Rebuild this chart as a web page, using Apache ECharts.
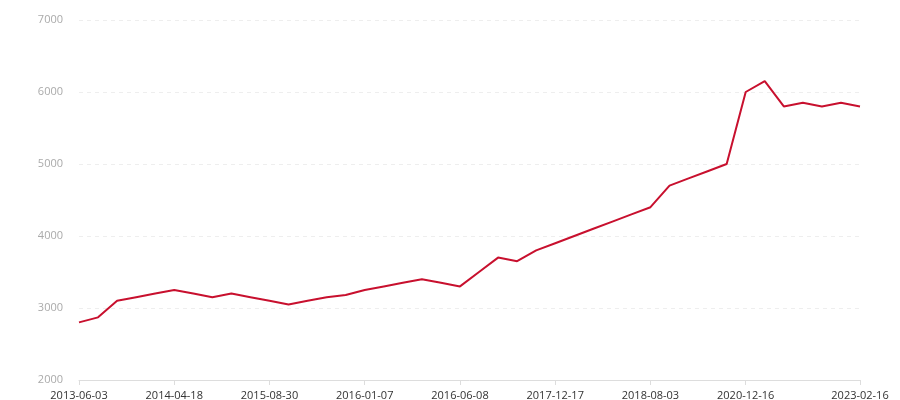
<!DOCTYPE html>
<html>
<head>
<meta charset="utf-8">
<script src="https://cdn.jsdelivr.net/npm/echarts@6/dist/echarts.min.js"></script>
<style>html,body{margin:0;padding:0;background:#fff}#c{width:900px;height:400px}</style>
</head>
<body>
<div id="c"></div>
<script>
var categories = [
  '2013-06-03','2013-08-15','2013-10-20','2013-12-05','2014-02-10',
  '2014-04-18','2014-07-02','2014-10-11','2015-01-09','2015-03-22',
  '2015-08-30','2015-09-18','2015-10-09','2015-11-02','2015-12-01',
  '2016-01-07','2016-02-15','2016-03-10','2016-04-05','2016-05-06',
  '2016-06-08','2016-09-20','2016-12-30','2017-04-11','2017-08-02',
  '2017-12-17','2018-01-24','2018-03-05','2018-04-20','2018-06-11',
  '2018-08-03','2019-03-15','2019-09-10','2020-03-22','2020-08-19',
  '2020-12-16','2021-05-08','2021-10-14','2022-03-02','2022-08-25',
  '2022-11-30','2023-02-16'
];
var values = [
  2800, 2870, 3100, 3150, 3200,
  3250, 3200, 3150, 3200, 3150,
  3100, 3050, 3100, 3150, 3180,
  3250, 3300, 3350, 3400, 3350,
  3300, 3500, 3700, 3650, 3800,
  3900, 4000, 4100, 4200, 4300,
  4400, 4700, 4800, 4900, 5000,
  6000, 6150, 5800, 5850, 5800,
  5850, 5800
];
var yTicks = [2000, 3000, 4000, 5000, 6000, 7000];

var last = categories.length - 1;
function showLabel(i) { return (i % 5 === 0 && i <= last - 6) || i === last; }

var chart = echarts.init(document.getElementById('c'), null, {renderer: 'canvas'});
chart.setOption({
  animation: false,
  textStyle: {fontFamily: '"Open Sans", sans-serif'},
  grid: {left: 79, right: 40, top: 20, bottom: 20, containLabel: false, outerBoundsMode: 'none'},
  xAxis: {
    type: 'category',
    boundaryGap: false,
    data: categories,
    axisLine: {lineStyle: {color: '#dddddd'}},
    axisTick: {interval: function (i) { return showLabel(i); }, lineStyle: {color: '#dddddd'}},
    axisLabel: {interval: function (i) { return showLabel(i); }, color: '#333', fontSize: 11, margin: 10, fontFamily: '"Open Sans", sans-serif'}
  },
  yAxis: {
    type: 'value',
    min: yTicks[0],
    max: yTicks[yTicks.length - 1],
    interval: 1000,
    axisLine: {show: false},
    axisTick: {show: false},
    axisLabel: {color: '#aaa', fontSize: 11, margin: 16, fontFamily: '"Open Sans", sans-serif', formatter: function (v) { return String(v); }},
    splitLine: {lineStyle: {color: '#eeeeee', type: [4, 4]}}
  },
  series: [{
    type: 'line',
    data: values,
    showSymbol: false,
    symbol: 'none',
    lineStyle: {color: '#c8102e', width: 2},
    itemStyle: {color: '#c8102e'}
  }]
});
</script>
</body>
</html>
